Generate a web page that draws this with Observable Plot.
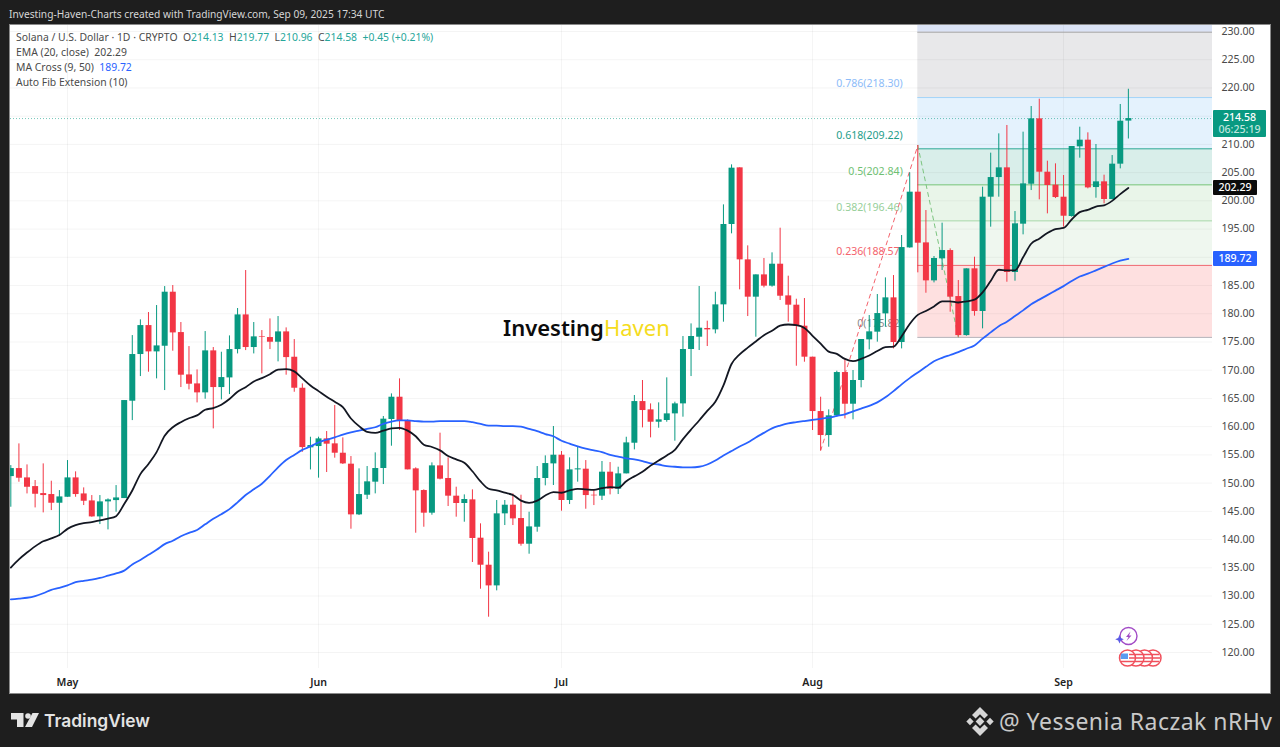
<!DOCTYPE html>
<html><head><meta charset="utf-8">
<script src="https://cdn.jsdelivr.net/npm/d3@7"></script>
<script src="https://cdn.jsdelivr.net/npm/@observablehq/plot@0.6"></script>
<style>
html,body{margin:0;padding:0;background:#1e1e1e;width:1280px;height:747px;overflow:hidden;font-family:"Noto Sans",sans-serif}
#panel{position:absolute;left:9px;top:24px;width:1260px;height:668px;background:#fff;border:1px solid #8a8a8a}
.abs{position:absolute;white-space:nowrap}
#plotwrap{position:absolute;left:0;top:0}
#head{left:9px;top:6.5px;font-size:10.2px;color:#d6d6d6}
.leg{left:16px;font-size:10.4px;color:#4a4a4a;line-height:14px}
#wm{left:503px;top:312px;font-size:22px;line-height:30px}
.box{color:#fff;font-size:10.6px;text-align:center;border-radius:1px;font-weight:500}
</style></head><body>
<div id="panel"></div>
<div id="wm" class="abs"><span style="font-weight:600;color:#0c0c0c">Investing</span><span style="color:#f5dc20">Haven</span></div>
<div id="plotwrap"></div>
<div id="head" class="abs">Investing-Haven-Charts created with TradingView.com, Sep 09, 2025 17:34 UTC</div>
<div class="abs leg" style="top:30px">Solana / U.S. Dollar · 1D · CRYPTO&nbsp; O<span style="color:#26a69a">214.13</span>&nbsp; H<span style="color:#26a69a">219.77</span>&nbsp; L<span style="color:#26a69a">210.96</span>&nbsp; C<span style="color:#26a69a">214.58</span>&nbsp; <span style="color:#26a69a">+0.45 (+0.21%)</span></div>
<div class="abs leg" style="top:45px">EMA (20, close)&nbsp; 202.29</div>
<div class="abs leg" style="top:60px">MA Cross (9, 50)&nbsp; <span style="color:#2962ff">189.72</span></div>
<div class="abs leg" style="top:75px">Auto Fib Extension (10)</div>
<div id="boxes"></div>
<svg class="abs" style="left:0;top:0" width="1280" height="747">
  <g>
    <circle cx="1128.5" cy="636" r="8.5" fill="#fff" stroke="#a24bc6" stroke-width="1.4"/>
    <path d="M1130.5 631.5 L1126 637 L1128.5 637 L1126.5 641 L1131.5 635.5 L1129 635.5 Z" fill="#a24bc6"/>
    <path d="M1119.5 635 L1120.8 638 L1123.8 639.2 L1120.8 640.4 L1119.5 643.4 L1118.2 640.4 L1115.2 639.2 L1118.2 638 Z" fill="#5b5be6"/>
  </g>
  <g fill="#fff" stroke="#f0505c" stroke-width="1.5">
    <circle cx="1153" cy="658" r="8"/><circle cx="1144.5" cy="658" r="8"/><circle cx="1136" cy="658" r="8"/><circle cx="1127.5" cy="658" r="8"/>
  </g>
  <g stroke="#f0505c" stroke-width="1.5">
    <path d="M1146 654.5H1159M1146 658H1160M1146 661.5H1159M1137.5 654.5H1150M1137.5 658H1151M1137.5 661.5H1150M1129 654.5H1142M1129 658H1143M1129 661.5H1142M1121 661.5H1134"/>
  </g>
  <path d="M1121 653.5 H1128 V659 H1120.5 Z" fill="#5a9bf0"/>
  <g fill="#e4e4e4">
    <path d="M11 713 H23.5 V727 H17 V719.5 H11 Z"/>
    <circle cx="28" cy="716" r="2.8"/>
    <path d="M32.5 713 H39 L32 727 H25 Z"/>
  </g>
  <text x="44" y="727" font-family="Inter,'Noto Sans',sans-serif" font-size="17.4" font-weight="600" fill="#e4e4e4">TradingView</text>
  <g fill="#d6d6d6">
    <path d="M980 707 L988 715 L984.4 718.6 L980 714.2 L975.6 718.6 L972 715 Z"/>
    <path d="M980 736 L988 728 L984.4 724.4 L980 728.8 L975.6 724.4 L972 728 Z"/>
    <rect x="976.9" y="718.4" width="6.2" height="6.2" transform="rotate(45 980 721.5)"/>
    <rect x="967.4" y="718.9" width="5.2" height="5.2" transform="rotate(45 970 721.5)"/>
    <rect x="987.4" y="718.9" width="5.2" height="5.2" transform="rotate(45 990 721.5)"/>
  </g>
  <text x="999" y="730" font-family="'Noto Sans',sans-serif" font-size="23" fill="#c9c9c9" textLength="273" lengthAdjust="spacing">@ Yessenia Raczak nRHv</text>
</svg>
<script>
const firstDay = "2025-04-24";
const open = [151.16,152.58,150.93,149.39,148.15,147.98,146.44,147.5,150.93,148.09,
146.85,144.02,146.68,146.91,147.27,164.51,172.78,177.91,173.25,174.25,
183.82,176.67,169.17,167.58,165.99,173.43,166.93,168.64,173.66,179.8,
174.02,175.96,175.79,174.96,176.79,172.3,166.81,156.25,156.48,157.84,
156.96,155.3,153.36,144.38,147.86,150.17,152.59,161.27,165.22,161.09,
152.53,148.69,144.68,153.06,150.82,147.69,146.39,147.04,140.25,135.46,
131.8,144.56,146.09,143.73,139.18,142.19,150.82,153.41,154.95,146.92,
152.35,152.47,147.86,147.69,151.94,148.93,151.64,157.07,164.45,162.98,
160.79,161.09,162.27,164.04,173.67,175.85,177.39,177.15,181.58,195.81,
205.85,189.55,182.94,186.89,184.89,188.78,183.17,181.52,177.8,172.31,
162.68,158.43,161.92,169.59,163.98,168.18,175.38,176.74,179.98,182.82,
174.91,191.67,201.54,192.56,185.83,189.73,191.2,183.05,176.14,187.96,
180.4,200.65,204.13,205.85,187.31,195.87,202.95,214.53,205.08,202.78,
200.65,197.23,209.57,210.75,202.36,203.37,200.24,206.5,214.13];
const high = [153.11,156.95,153.23,150.46,153.41,150.34,148.68,154,152,149.16,
147.8,147.8,147.21,149.57,164.63,176.14,178.92,180.22,181.46,184.82,
185,178.45,174.19,170.06,176.85,174.02,173.19,176.08,180.93,187.66,
178.45,177.03,179.09,179.51,177.5,175.43,167.58,158.13,158.14,159.14,
163.75,158.02,154.71,152.53,152.94,155.36,161.8,165.81,168.47,161.21,
152.71,148.81,153.59,158.85,154.48,149.28,147.92,148.81,142.79,137.77,
146.92,146.92,148.1,147.86,144.85,152.94,154.83,160.03,155.6,154.48,
156.49,154,148.69,153.83,153.65,152.82,158.13,165.52,168.18,164.04,
164.22,168.65,164.34,175.97,178.21,184.83,178.69,183.82,199.29,206.38,
205.85,192.03,186.89,189.79,190.79,195.16,186.66,182.58,182.7,172.31,
165.22,162.98,169.83,171.84,169.95,175.44,179.69,183.41,186.36,186.77,
193.86,204.96,209.8,198.29,190.14,196.05,191.5,185.89,187.96,190.02,
202.42,208.45,211.87,213.35,198.11,212.17,216.71,218.01,207.03,206.56,
204.49,209.63,213.05,212.05,209.98,204.55,208.03,217.07,219.77];
const low = [145.73,150.16,148.09,145.61,144.73,145.14,140.53,147.5,147.5,146.03,
143.96,142.66,141.72,144.85,147.27,161.08,168.88,169.65,168.47,166.4,
173.37,166.93,166.52,164.21,164.86,159.61,164.75,165.69,172.89,173.48,
172.89,169.35,173.66,171.48,169.12,166.1,155.47,152.34,150.88,151.88,
154.42,153.3,141.84,144.26,147.1,148.1,149.75,156.54,159.32,152.35,
141.13,142.19,144.32,150.58,145.86,143.97,143.08,135.94,131.21,126.25,
130.92,142.49,142.49,138.83,137.41,141.31,149.52,149.58,145.03,146.21,
150.17,145.38,146.03,146.92,147.92,147.98,151.64,155.89,159.79,158.02,
159.73,160.79,157.43,161.68,168.88,173.49,174.2,176.44,178.51,194.16,
184.24,179.51,175.85,184.59,184.71,182.35,178.51,170.71,171.42,159.32,
155.77,156.36,161.68,161.38,161.21,166.88,173.61,174.97,177.62,173.78,
173.78,191.62,187.25,183.64,185.47,187.66,180.28,175.85,176.03,179.57,
177.33,195.34,200.65,185.59,185.77,193.98,201.83,200.18,197.7,200.41,
195.34,197.11,207.56,202.13,200.47,199.47,200.18,205.67,210.96];
const close = [152.58,150.87,149.27,148.03,147.8,146.44,147.56,150.93,147.98,146.79,
144.02,146.68,147.03,147.38,164.63,172.78,177.91,173.25,174.31,183.82,
176.61,169.12,167.52,165.99,173.43,166.93,168.7,173.66,179.8,174.02,
175.91,175.85,174.96,176.79,172.24,166.81,156.3,156.66,157.84,156.9,
155.3,153.41,144.38,147.98,150.23,152.59,161.33,165.22,161.03,152.35,
148.63,144.68,153.06,150.7,147.69,146.39,147.1,140.19,135.46,131.8,
144.56,146.09,143.67,139.18,142.25,150.82,153.47,154.95,146.92,152.35,
152.53,147.8,147.75,151.94,148.93,151.64,157.13,164.45,162.86,160.79,
161.21,162.27,164.04,173.67,175.97,177.45,177.15,181.58,195.81,205.79,
189.55,182.94,186.89,184.89,188.78,183.11,181.52,177.8,172.31,162.68,
158.43,161.92,169.59,163.98,168.18,175.44,176.8,180.04,182.82,174.91,
191.73,201.54,192.5,185.83,189.79,191.2,182.94,176.14,187.96,180.4,
200.65,204.13,205.85,187.31,195.93,203.01,214.53,205.08,202.72,200.59,
197.28,209.63,210.75,202.3,203.37,200.24,206.5,214.11,214.58];
const ema20 = [135.05,136.5,137.7,138.8,139.7,140.2,140.8,141.9,142.55,142.9,
143.1,143.4,143.7,144.15,146.3,148.7,151.6,153.4,155.5,158.4,
159.9,160.8,161.5,162,163,163.3,163.9,164.9,166.2,167,
168,168.6,169.3,170.1,170.2,169.8,168.55,167.3,166.3,165.3,
164.4,163.45,161.45,160.1,159.1,158.9,159.3,159.7,159.8,159.3,
158.3,156.8,156.4,155.8,154.8,154.2,153.6,152.1,150.3,149,
148.7,148.3,147.9,146.9,146.5,146.9,147.8,148.4,148.3,148.7,
149,148.9,148.8,149.1,149.3,149.2,150.35,151.2,152,153.1,
154,154.9,155.9,157.8,159.5,161.1,162.8,164.4,167.3,171.1,
172.8,174,175.1,176.2,177,177.9,178.1,178,177.5,176.1,
174.7,173.3,172.9,172,171.6,172,172.6,173.4,174.1,174.2,
176,178.2,179.8,180.5,181.3,182.2,182.2,182,182.2,182.5,
183.8,185.8,187.8,187.7,187.7,190,192.4,193.3,194.3,195,
195.2,196.7,198,198.4,199,199.2,200,201.2,202.29];
const ma50 = [129.4,129.55,129.7,130,130.5,131.1,131.45,131.9,132.45,132.7,
132.9,133.2,133.6,134,134.5,135.6,136.4,137.3,138.2,139.2,
139.8,140.6,141.2,141.7,142.7,143.7,144.5,145.4,146.6,147.9,
148.9,149.9,151.3,152.8,154.1,155,155.9,156.5,157.2,157.7,
158.1,158.6,159,159.3,159.6,159.9,160.5,160.9,161.1,161.1,
161,160.9,160.9,161,161,161,161,160.8,160.5,160.2,
160.2,160.1,160.1,160,159.6,159.2,158.7,158.3,157.5,157,
156.5,156.1,155.8,155.5,155,154.7,154.4,154.2,153.9,153.5,
153.3,153,152.9,152.8,152.8,152.9,153.3,154,154.9,155.7,
156.5,157.2,158.1,158.9,159.7,160.2,160.6,160.8,161,161.2,
161.4,161.6,161.9,162.2,162.7,163.2,163.7,164.3,165.2,166.3,
167.5,168.6,169.6,170.6,171.6,172.2,172.7,173.2,173.8,174.4,
175.6,176.7,177.8,178.6,179.6,180.6,181.7,182.5,183.3,184.1,
184.9,185.8,186.6,187.1,187.7,188.3,188.9,189.4,189.72];

const priceTicks = d3.range(120, 231, 5);
const hiddenTicks = [190, 215];
const monthNames = ["2025-05-01","2025-06-01","2025-07-01","2025-08-01","2025-09-01"];
const fibLabels = ["0(175.82)","0.236(188.57)","0.382(196.46)","0.5(202.84)","0.618(209.22)","0.786(218.30)",""];
const fibPrices = [175.82,188.57,196.46,202.84,209.22,218.30,229.87];
const fibLines = ["#b3b0b6","#ef6a72","#a5d6a7","#72c276","#2ba896","#a3d3f8","#a8a8a8"];
const fibText  = ["#8a8a8a","#f4636d","#97cf9a","#6fbf73","#1f9e8a","#8dbcf8","#888"];
const fibFills = ["#fee0e0","#eff7ef","#e9f5e9","#d9eeea","#e4f2fd","#e8e8ea","#dbe3f6"];
const swingIdx = [100,112,117];
const swingPrice = [155.77,209.8,175.85];

const DAY = 864e5;
const may1 = Date.UTC(2025,4,1);
const xDomain = [new Date(may1 - 7.039*DAY), new Date(may1 + 141.39*DAY)];
const yDomain = [117.166, 231.063];
const start0 = Date.parse(firstDay);
const dates = open.map((_, i) => new Date(start0 + i*DAY));
const rows = dates.map((date,i)=>({date,open:open[i],high:high[i],low:low[i],close:close[i],ema:ema20[i],ma:ma50[i],up:close[i]>=open[i]}));
const GREEN="#089981", RED="#f23645";
const fibStart = dates[112], fibEnd = xDomain[1];
const bands = fibPrices.map((p,i)=>({x1:fibStart,x2:fibEnd,y1:p,y2:i<fibPrices.length-1?fibPrices[i+1]:yDomain[1],fill:fibFills[i]}));
const levels = fibPrices.map((price,i)=>({x1:fibStart,x2:fibEnd,price,label:fibLabels[i],line:fibLines[i],text:fibText[i]}));
const swings = swingIdx.map((k,i)=>({date:dates[k],price:swingPrice[i]}));
const months = monthNames.map(s=>new Date(s));

const chart = Plot.plot({
  width:1280,height:747,marginLeft:10,marginRight:68,marginTop:25,marginBottom:79,
  style:{background:"transparent",fontFamily:"'Noto Sans',sans-serif"},
  x:{type:"utc",domain:xDomain,range:[10,1212]},
  y:{domain:yDomain,range:[668,25]},
  marks:[
    Plot.rect(bands,{x1:"x1",x2:"x2",y1:"y1",y2:"y2",fill:"fill"}),
    Plot.gridY(priceTicks,{stroke:"#000",strokeOpacity:0.045}),
    Plot.gridX(months,{stroke:"#000",strokeOpacity:0.045}),
    Plot.ruleY(levels,{y:"price",x1:"x1",x2:"x2",stroke:"line",strokeWidth:1}),
    Plot.text(levels,{x:"x1",y:"price",text:"label",fill:"text",textAnchor:"end",dx:-15,dy:-13.5,fontSize:10.6}),
    Plot.line(swings.slice(0,2),{x:"date",y:"price",stroke:"#f4636d",strokeWidth:1,strokeDasharray:"4 4"}),
    Plot.line(swings.slice(1,3),{x:"date",y:"price",stroke:"#7cc47f",strokeWidth:1,strokeDasharray:"4 4"}),
    Plot.ruleY([close[close.length-1]],{stroke:GREEN,strokeOpacity:0.55,strokeDasharray:"1 2",strokeWidth:1}),
    Plot.ruleX(rows,{x:"date",y1:"low",y2:"high",stroke:d=>d.up?GREEN:RED,strokeWidth:1,clip:true}),
    Plot.ruleX(rows,{x:"date",y1:"open",y2:"close",stroke:d=>d.up?GREEN:RED,strokeWidth:6,clip:true}),
    Plot.line(rows,{x:"date",y:"ma",stroke:"#2962ff",strokeWidth:1.8,curve:"monotone-x",clip:true}),
    Plot.line(rows,{x:"date",y:"ema",stroke:"#131722",strokeWidth:1.8,curve:"monotone-x",clip:true}),
    Plot.axisY(priceTicks.filter(t=>!hiddenTicks.includes(t)),{anchor:"right",tickSize:0,tickPadding:9,tickFormat:d=>d.toFixed(2),label:null,fill:"#4a4a4a",fontSize:10.6}),
    Plot.axisX(months,{anchor:"bottom",tickSize:0,tickPadding:10,tickFormat:d3.utcFormat("%b"),label:null,fill:"#222",fontSize:10.6,fontWeight:600})
  ]
});
document.getElementById("plotwrap").appendChild(chart);

const yS = chart.scale("y");
const boxesEl = document.getElementById("boxes");
const lastPrice=close[close.length-1], lastEma=ema20[ema20.length-1], lastMa=ma50[ma50.length-1];
function addBox(v,bg,w,html,h,off){
  const d=document.createElement("div");
  d.className="abs box";
  d.style.cssText=`left:1213px;top:${yS.apply(v)-off}px;width:${w}px;height:${h}px;background:${bg};line-height:${h>20?"12.5px":h+"px"}`;
  d.innerHTML=html;
  boxesEl.appendChild(d);
}
addBox(lastPrice,GREEN,53,`<div style="padding-top:1px">${lastPrice.toFixed(2)}</div><div style="color:#bfe6de">06:25:19</div>`,27,8.5);
addBox(lastEma,"#0b0b0b",44,lastEma.toFixed(2),15,7.5);
addBox(lastMa,"#2962ff",44,lastMa.toFixed(2),15,7.5);
</script>
</body></html>
